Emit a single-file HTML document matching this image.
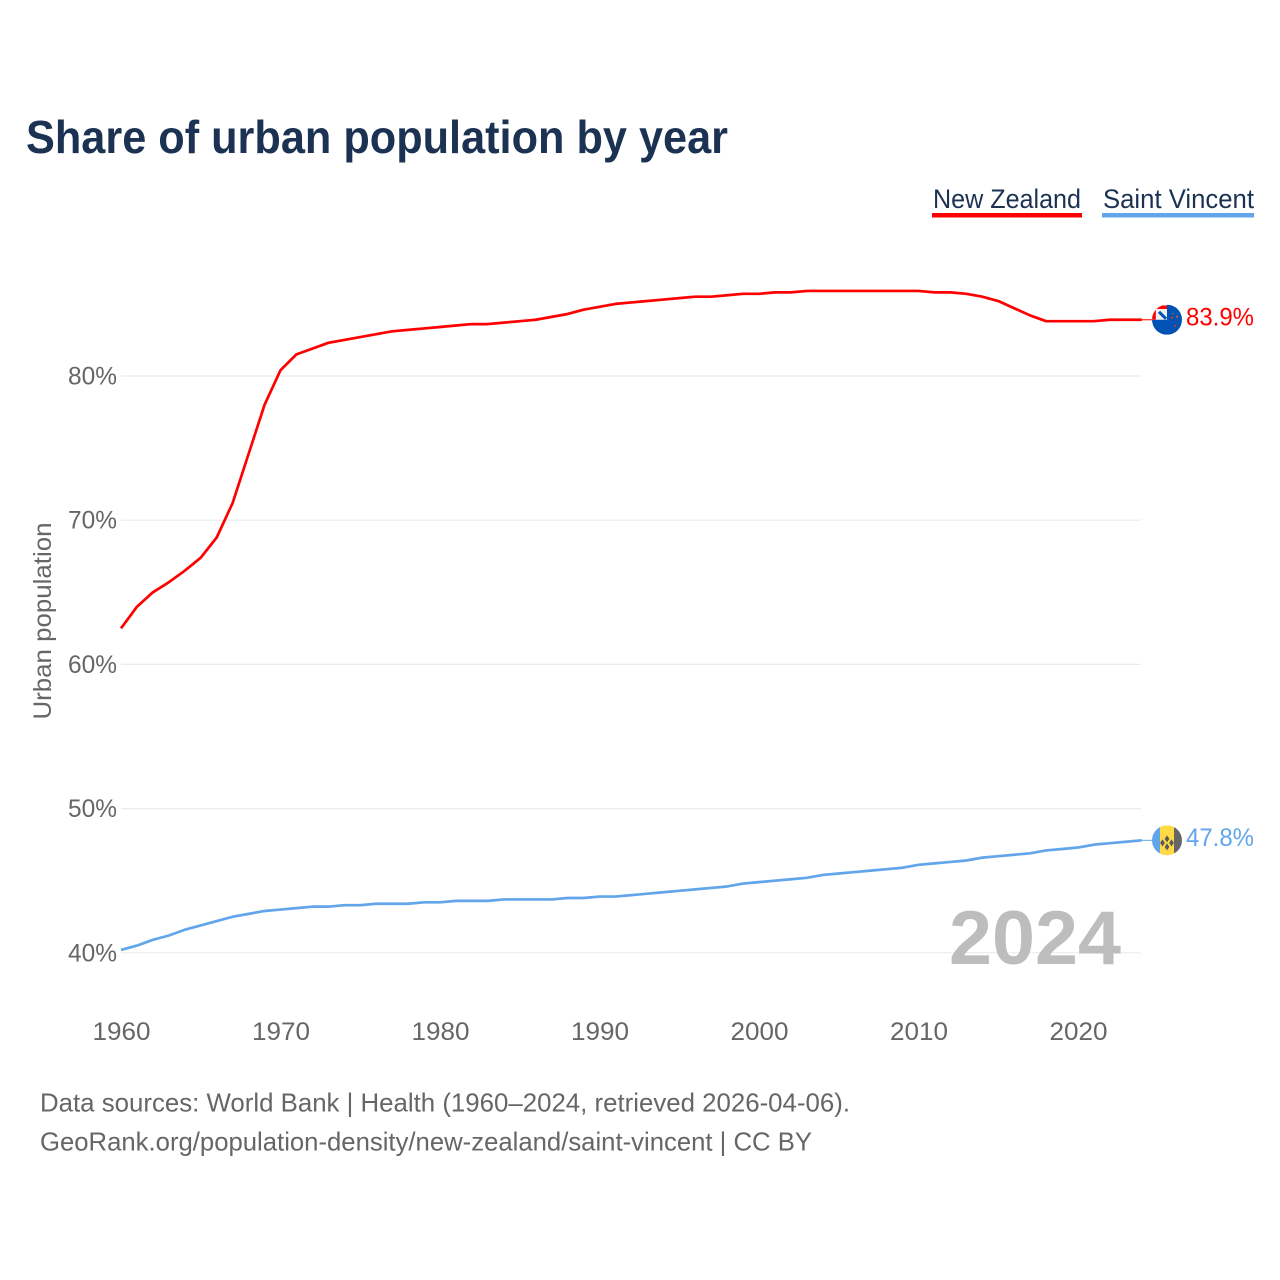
<!DOCTYPE html>
<html lang="en">
<head>
<meta charset="utf-8">
<title>Share of urban population by year</title>
<style>
html,body{margin:0;padding:0;background:#fff;width:1280px;height:1280px;overflow:hidden}
svg{display:block;font-family:"Liberation Sans",sans-serif}
</style>
</head>
<body>
<svg id="chart" width="1280" height="1280" viewBox="0 0 1280 1280" xmlns="http://www.w3.org/2000/svg">
  <rect width="1280" height="1280" fill="#fff"/>
  <text x="26" y="153" font-size="46" font-weight="700" fill="#1b3252" textLength="702" lengthAdjust="spacingAndGlyphs">Share of urban population by year</text>

  <g>
    <text x="933" y="208" font-size="27" fill="#1b3252" textLength="148" lengthAdjust="spacingAndGlyphs">New Zealand</text>
    <rect x="932" y="213" width="150" height="4.5" fill="#ff0000"/>
  </g>
  <g>
    <text x="1103" y="208" font-size="27" fill="#1b3252" textLength="151" lengthAdjust="spacingAndGlyphs">Saint Vincent</text>
    <rect x="1102" y="213" width="152" height="4.5" fill="#62a5ea"/>
  </g>

  <g id="grid"></g>
  <g id="y-ticks"></g>
  <g id="x-ticks"></g>
  <text transform="translate(51,621) rotate(-90)" text-anchor="middle" font-size="25" fill="#666" textLength="197" lengthAdjust="spacingAndGlyphs">Urban population</text>
  <text id="year-label" x="949" y="964" font-size="76" font-weight="700" fill="#bdbdbd" textLength="172" lengthAdjust="spacingAndGlyphs">2024</text>

  <g id="series"></g>

  <defs>
    <clipPath id="flag-clip"><circle cx="0" cy="0" r="15"/></clipPath>
  </defs>
  <g id="flag-nz">
    <g clip-path="url(#flag-clip)">
      <rect x="-15" y="-15" width="30" height="30" fill="#0052b4"/>
      <rect x="-15" y="-15" width="15" height="15" fill="#f0f0f0"/>
      <path d="M-13,0 V-12.5 H0" fill="none" stroke="#ff0000" stroke-width="3.6"/>
      <path d="M-8,-8 L-1,-1" stroke="#0052b4" stroke-width="3"/>
      <circle cx="5" cy="-2" r="1.2" fill="#c0392b"/>
      <circle cx="10" cy="-3" r="1.2" fill="#a9604a"/>
      <circle cx="8" cy="6" r="1.2" fill="#c0392b"/>
      <circle cx="6" cy="-6" r="0.9" fill="#a9604a"/>
    </g>
  </g>
  <g id="flag-vc">
    <g clip-path="url(#flag-clip)">
      <rect x="-15" y="-15" width="8" height="30" fill="#62a5ea"/>
      <rect x="-7" y="-15" width="14" height="30" fill="#ffda44"/>
      <rect x="7" y="-15" width="8" height="30" fill="#666"/>
      <path d="M0,-5 l2.4,3.5 l-2.4,3.5 l-2.4,-3.5z M-4.5,-1 l2.4,3.5 l-2.4,3.5 l-2.4,-3.5z M4.5,-1 l2.4,3.5 l-2.4,3.5 l-2.4,-3.5z M0,3 l2.4,3.5 l-2.4,3.5 l-2.4,-3.5z" fill="#5a5a5a"/>
    </g>
  </g>
  <text id="value-nz" font-size="25" fill="#ff0000" textLength="68" lengthAdjust="spacingAndGlyphs"></text>
  <text id="value-vc" font-size="25" fill="#62a5ea" textLength="68" lengthAdjust="spacingAndGlyphs"></text>

  <text x="40" y="1111.5" font-size="26" fill="#666" textLength="810" lengthAdjust="spacingAndGlyphs">Data sources: World Bank | Health (1960–2024, retrieved 2026-04-06).</text>
  <text x="40" y="1150.5" font-size="26" fill="#666" textLength="772" lengthAdjust="spacingAndGlyphs">GeoRank.org/population-density/new-zealand/saint-vincent | CC BY</text>
</svg>

<script>
var startYear = 1960;
var newZealand = [62.5,64.0,65.0,65.7,66.5,67.4,68.8,71.2,74.6,78.0,80.4,81.5,81.9,82.3,82.5,82.7,82.9,83.1,83.2,83.3,83.4,83.5,83.6,83.6,83.7,83.8,83.9,84.1,84.3,84.6,84.8,85.0,85.1,85.2,85.3,85.4,85.5,85.5,85.6,85.7,85.7,85.8,85.8,85.9,85.9,85.9,85.9,85.9,85.9,85.9,85.9,85.8,85.8,85.7,85.5,85.2,84.7,84.2,83.8,83.8,83.8,83.8,83.9,83.9,83.9];
var saintVincent = [40.2,40.5,40.9,41.2,41.6,41.9,42.2,42.5,42.7,42.9,43.0,43.1,43.2,43.2,43.3,43.3,43.4,43.4,43.4,43.5,43.5,43.6,43.6,43.6,43.7,43.7,43.7,43.7,43.8,43.8,43.9,43.9,44.0,44.1,44.2,44.3,44.4,44.5,44.6,44.8,44.9,45.0,45.1,45.2,45.4,45.5,45.6,45.7,45.8,45.9,46.1,46.2,46.3,46.4,46.6,46.7,46.8,46.9,47.1,47.2,47.3,47.5,47.6,47.7,47.8];
var yTicks = [40,50,60,70,80];
var xTicks = [1960,1970,1980,1990,2000,2010,2020];

var NS = 'http://www.w3.org/2000/svg';
function xScale(year){ return 121 + (year - 1960) * 15.95; }
function yScale(v){ return 952.8 - (v - 40) * 14.42; }
function make(tag, attrs, parent){
  var el = document.createElementNS(NS, tag);
  for (var k in attrs) el.setAttribute(k, attrs[k]);
  parent.appendChild(el);
  return el;
}
var grid = document.getElementById('grid');
var yGroup = document.getElementById('y-ticks');
var xGroup = document.getElementById('x-ticks');
var seriesGroup = document.getElementById('series');

yTicks.forEach(function(t){
  var line = make('line', {x1:121, x2:1141, y1:yScale(t), y2:yScale(t), stroke:'#ebebeb', 'stroke-width':1.2}, grid);
  
  
  var label = make('text', {x:117, y:yScale(t) + 8.5, 'text-anchor':'end', 'font-size':25, fill:'#666', textLength:49, lengthAdjust:'spacingAndGlyphs'}, yGroup);
  
  
  label.textContent = t + '%';
});

xTicks.forEach(function(t){
  var label = make('text', {x:xScale(t) + 0.5, y:1040, 'text-anchor':'middle', 'font-size':25, fill:'#666', textLength:58, lengthAdjust:'spacingAndGlyphs'}, xGroup);
  
  
  label.textContent = t;
});

function pathFor(values){
  return values.map(function(v, i){
    return (i ? 'L' : 'M') + xScale(startYear + i).toFixed(2) + ' ' + yScale(v).toFixed(2);
  }).join(' ');
}

var nzLine = make('path', {d:pathFor(newZealand), fill:'none', stroke:'#ff0000', 'stroke-width':2.7, 'stroke-linejoin':'round'}, seriesGroup);


var vcLine = make('path', {d:pathFor(saintVincent), fill:'none', stroke:'#62a5ea', 'stroke-width':2.7, 'stroke-linejoin':'round'}, seriesGroup);



function placeEnd(values, flagId, valueId, color){
  var last = values[values.length - 1];
  var lastX = xScale(startYear + values.length - 1);
  var y = yScale(last);
  var leader = make('line', {x1:lastX, x2:1152, y1:y, y2:y, stroke:color, 'stroke-width':1}, seriesGroup);
  
  
  document.getElementById(flagId).setAttribute('transform', 'translate(1167,' + y + ')');
  var t = document.getElementById(valueId);
  t.setAttribute('x', 1186);
  t.setAttribute('y', y + 5.5);
  t.textContent = last.toFixed(1) + '%';
}
placeEnd(newZealand, 'flag-nz', 'value-nz', '#ff0000');
placeEnd(saintVincent, 'flag-vc', 'value-vc', '#62a5ea');
</script>
</body>
</html>
